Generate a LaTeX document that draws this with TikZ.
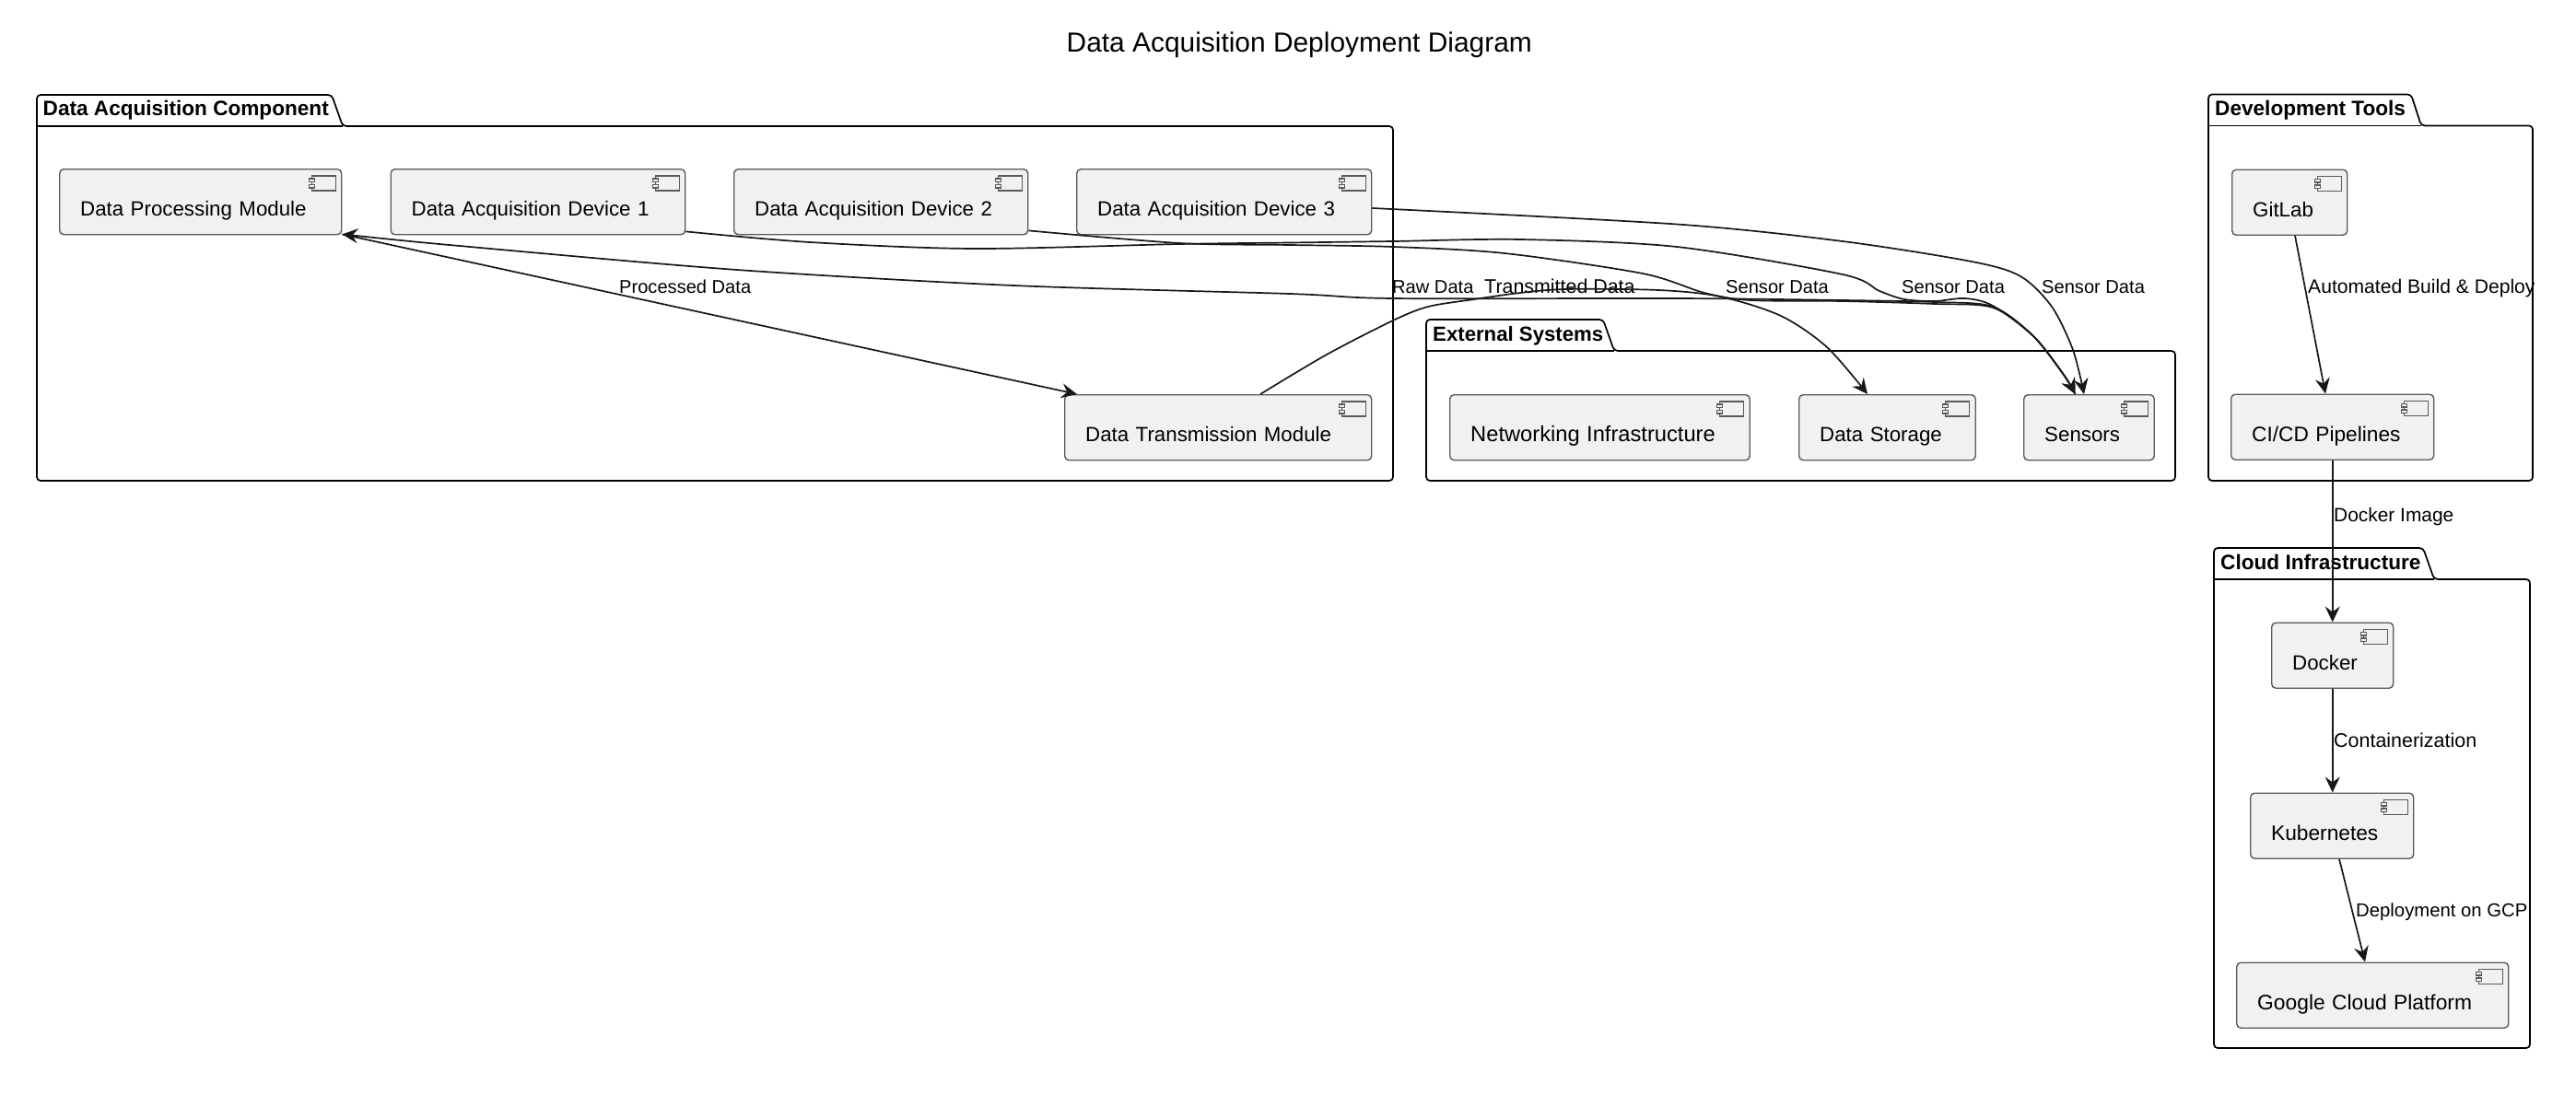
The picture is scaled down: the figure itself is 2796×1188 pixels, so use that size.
\documentclass[tikz,border=0pt]{standalone}
\usepackage{fontspec}
\setmainfont{Liberation Sans}
\usetikzlibrary{calc,arrows.meta}
\definecolor{compfill}{HTML}{F1F1F1}
\definecolor{compline}{HTML}{5A5A5A}
\definecolor{conn}{HTML}{181818}
\tikzset{
  x=1pt,y=-1pt,
  pkgline/.style={draw=black,line width=1.7pt,rounded corners=4pt,fill=white},
  pkgtitle/.style={anchor=base west,inner sep=0pt,font=\fontsize{22.6}{26}\selectfont\bfseries},
  compbox/.style={draw=compline,line width=1.4pt,fill=compfill,rounded corners=4.5pt,anchor=north west,
    inner xsep=22.5pt,inner ysep=0pt,text height=51pt,text depth=20pt,align=left,
    font=\fontsize{22.3}{26}\selectfont},
  iconline/.style={draw=compline,line width=1.1pt,fill=compfill},
  edgelabel/.style={anchor=base west,inner sep=0pt,font=\fontsize{20.1}{24}\selectfont},
  edgewide/.style={anchor=base west,inner sep=0pt,font=\fontsize{#1}{24}\selectfont},
  conline/.style={draw=conn,line width=1.7pt},
  flow/.style={conline,-{Stealth[length=17pt,width=16pt,inset=6pt]}},
  flowrev/.style={conline,{Stealth[length=17pt,width=16pt,inset=6pt]}-},
}
% \pkgshape{x1}{top}{line}{tabslant}{tabright}{x2}{bottom}
\newcommand{\pkgshape}[7]{%
  \draw[pkgline] (#1,#3) -- (#1,#2) -- (#4,#2) -- (#5,#3) -- (#6,#3) -- (#6,#7) -- (#1,#7) -- cycle;
  \draw[draw=black,line width=1.7pt] (#1,#3) -- (#5,#3);
}
% \comp{name}{x1}{y1}{x2}{text}
\newcommand{\comp}[5]{%
  \pgfmathsetmacro{\tw}{#4-#2-45}
  \node[compbox,text width=\tw pt] (#1) at (#2,#3) {#5};
  \draw[iconline] ($(#1.north east)+(-33,8)$) rectangle ($(#1.north east)+(-7,24)$);
  \draw[iconline] ($(#1.north east)+(-36,11)$) rectangle ($(#1.north east)+(-30,14.5)$);
  \draw[iconline] ($(#1.north east)+(-36,17.5)$) rectangle ($(#1.north east)+(-30,21)$);
}
\begin{document}
\begin{tikzpicture}
\useasboundingbox (0,0) rectangle (2796,1188);
\fill[white] (0,0) rectangle (2796,1188);

\node[anchor=base west,inner sep=0pt,font=\fontsize{29.9}{34}\selectfont] (title) at (1157.5,57) {Data Acquisition Deployment Diagram};

% packages
\pkgshape{40}{103}{137}{360}{372}{1512}{522}
\node[pkgtitle] (pkgdac) at (46.5,126) {Data Acquisition Component};
\pkgshape{1548}{347}{381}{1740}{1752}{2361}{522}
\node[pkgtitle,font=\fontsize{22.2}{26}\selectfont\bfseries] (pkgext) at (1555,370) {External Systems};
\pkgshape{2397}{102.5}{136.5}{2617}{2628}{2749}{522}
\node[pkgtitle] (pkgdev) at (2404,125.5) {Development Tools};
\pkgshape{2403}{595}{629}{2630}{2642}{2746}{1138}
\node[pkgtitle] (pkgcloud) at (2410,618) {Cloud Infrastructure};

% components
\comp{dpm}{64}{183}{370}{Data Processing Module}
\comp{dad1}{423.5}{183}{743}{Data Acquisition Device 1}
\comp{dad2}{796}{183}{1115}{Data Acquisition Device 2}
\comp{dad3}{1168}{183}{1488}{Data Acquisition Device 3}
\comp{dtm}{1155}{428}{1488}{Data Transmission Module}
\comp{net}{1573}{428}{1898.5}{\fontsize{23.7}{26}\selectfont Networking Infrastructure}
\comp{store}{1952}{428}{2143.5}{Data Storage}
\comp{sensors}{2196}{428}{2337.5}{Sensors}
\comp{gitlab}{2422}{183.5}{2547}{GitLab}
\comp{cicd}{2421}{427.5}{2641}{\fontsize{22.7}{26}\selectfont CI/CD Pipelines}
\comp{docker}{2465}{675.5}{2597}{Docker}
\comp{kube}{2442}{860.5}{2619}{\fontsize{22.7}{26}\selectfont Kubernetes}
\comp{gcp}{2427}{1044.5}{2722}{\fontsize{22.8}{26}\selectfont Google Cloud Platform}

% connector end points on the nodes
\coordinate (sa) at ($(sensors.north west)+(56.5,0)$);
\coordinate (sc) at ($(sensors.north west)+(66,0)$);
\coordinate (stin) at ($(store.north west)+(75,0)$);
\coordinate (dtmout) at ($(dtm.north west)+(213,0)$);
\coordinate (dtmin) at ($(dtm.north west)+(14,0)$);
\coordinate (dpmout) at ($(dpm.south east)+(0,-1)$);
\coordinate (a1out) at ($(dad1.south east)+(0,-4)$);
\coordinate (a2out) at ($(dad2.south east)+(0,-5)$);
\coordinate (a3out) at ($(dad3.north east)+(0,43)$);
\coordinate (gitout) at ($(gitlab.south west)+(69,0)$);
\coordinate (cicdin) at ($(cicd.north west)+(103,0)$);
\coordinate (kubeout) at ($(kube.south west)+(97,0)$);
\coordinate (gcpin) at ($(gcp.north west)+(140,0)$);

% connector labels
\node[edgelabel] (lproc) at (672,318) {Processed Data};
\node[edgelabel] (lraw) at (1511,318) {Raw Data};
\node[edgewide=21.4] (ltrans) at (1611,318) {Transmitted Data};
\node[edgelabel] (ls1) at (1873,318) {Sensor Data};
\node[edgelabel] (ls2) at (2064,318) {Sensor Data};
\node[edgelabel] (ls3) at (2216,318) {Sensor Data};
\node[edgewide=21.1] (lauto) at (2505,318) {Automated Build \& Deploy};
\node[edgewide=20.9] (ldock) at (2533,566) {Docker Image};
\node[edgewide=21.45] (lcont) at (2533,811) {Containerization};
\node[edgewide=20.3] (lgcp) at (2557,995) {Deployment on GCP};

% connectors
\draw[flow] (dpmout) -- (dtmin);
\draw[flowrev] plot[smooth,tension=0.5] coordinates {(dpmout) (510,268) (800,293) (1100,310) (1400,319) (1512,324) (1820,324) (2000,326) (2100,328) (2163,333) (2207,365) (2240,407) (sa)};
\draw[flow] plot[smooth,tension=0.5] coordinates {(a1out) (879,263) (1057,270) (1280,265) (1400,263.5) (1512,262) (1650,260) (1820,268) (2000,298) (2040,316) (2067,325) (2100,327) (2133,324) (2163,332) (2207,365) (2240,407) (sa)};
\draw[flow] plot[smooth,tension=0.5] coordinates {(a2out) (1280,264) (1400,266) (1512,268) (1633,275) (1783,297) (1850,318) (1900,326) (2000,327) (2100,330) (2163,334) (2207,365) (2240,407) (sa)};
\draw[flow] plot[smooth,tension=0.5] coordinates {(a3out) (1820,243.5) (2000,262) (2140,284) (2193,300) (2227,333) (2250,380) (sc)};
\draw[flow] plot[smooth,tension=0.5] coordinates {(dtmout) (1440,385) (1512,348) (1550,333) (1600,325) (1650,318) (1700,314) (1800,315) (1867,322) (1933,343) (1983,377) (stin)};
\draw[flow] (gitout) -- (cicdin);
\draw[flow] (cicd.south) -- (docker.north);
\draw[flow] (docker.south) -- (kube.north-|docker.south);
\draw[flow] (kubeout) -- (gcpin);
\end{tikzpicture}
\end{document}
